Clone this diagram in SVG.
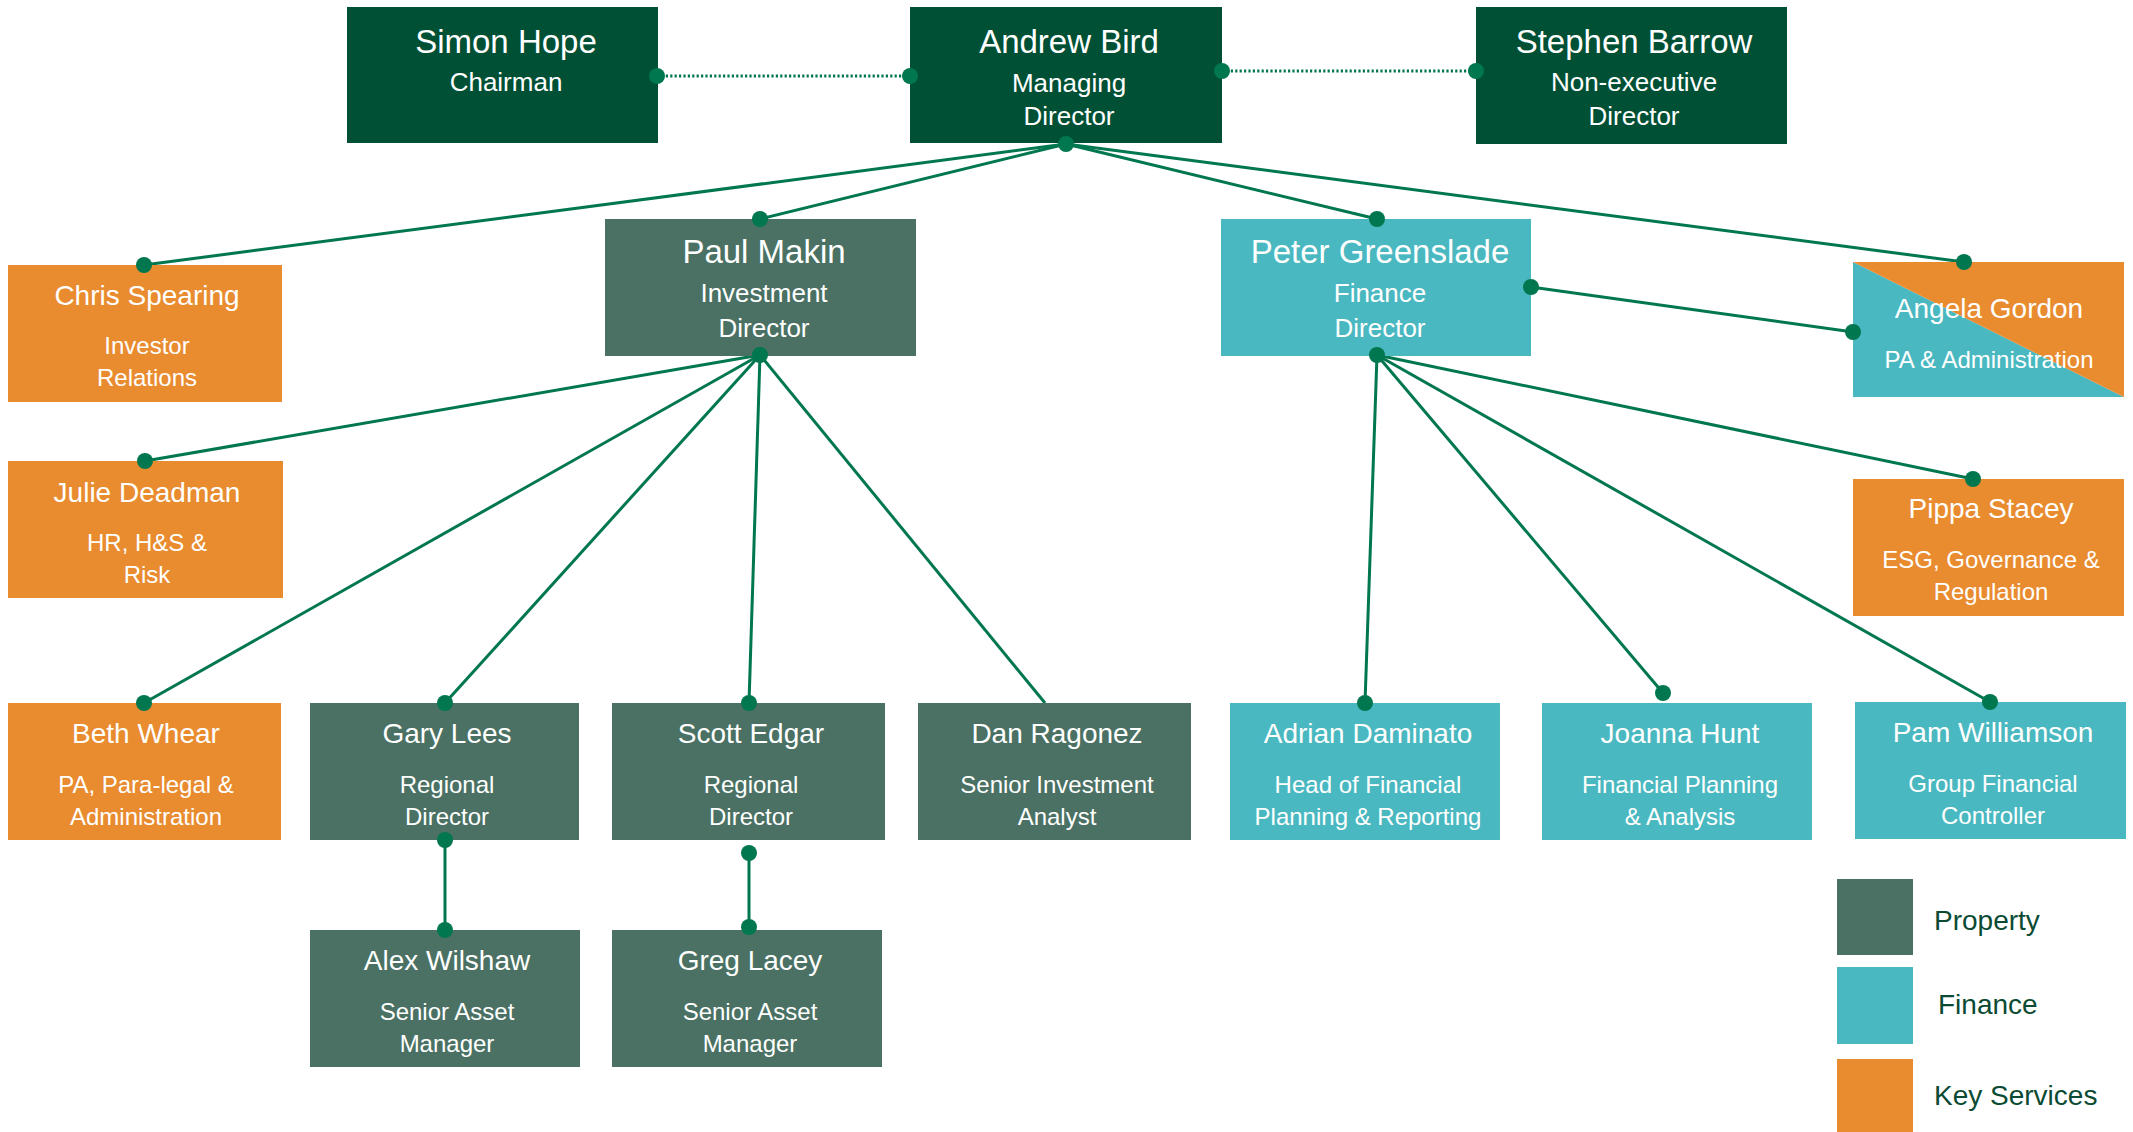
<svg xmlns="http://www.w3.org/2000/svg" width="2133" height="1132" viewBox="0 0 2133 1132">
<style>
.dark{fill:#005035}
.prop{fill:#4a7163}
.fin{fill:#4ab8c0}
.ks{fill:#e98b2f}
text{font-family:"Liberation Sans",Arial,sans-serif;fill:#ffffff;text-anchor:middle}
.n1{font-size:33px}
.s1{font-size:26px}
.n2{font-size:28px}
.s2{font-size:24px}
.leg{font-size:28px;fill:#0b4a33;text-anchor:start}
.ln{stroke:#00774e;stroke-width:3;fill:none}
.dot{stroke:#00774e;stroke-width:3;fill:none;stroke-dasharray:2.2 2.2}
.pt{fill:#00774e}
</style>
<rect width="2133" height="1132" fill="#ffffff"/>
<g id="connectors">
<line class="dot" x1="657" y1="76" x2="910" y2="76"/>
<line class="dot" x1="1222" y1="71" x2="1476" y2="71"/>
<line class="ln" x1="1066" y1="144" x2="144" y2="265"/>
<line class="ln" x1="1066" y1="144" x2="760" y2="219"/>
<line class="ln" x1="1066" y1="144" x2="1377" y2="219"/>
<line class="ln" x1="1066" y1="144" x2="1964" y2="262"/>
<line class="ln" x1="760" y1="355" x2="145" y2="461"/>
<line class="ln" x1="760" y1="355" x2="144" y2="703"/>
<line class="ln" x1="760" y1="355" x2="445" y2="703"/>
<line class="ln" x1="760" y1="355" x2="749" y2="703"/>
<line class="ln" x1="760" y1="355" x2="1045" y2="703"/>
<line class="ln" x1="1531" y1="287" x2="1853" y2="332"/>
<line class="ln" x1="1377" y1="355" x2="1973" y2="479"/>
<line class="ln" x1="1377" y1="355" x2="1365" y2="703"/>
<line class="ln" x1="1377" y1="355" x2="1663" y2="693"/>
<line class="ln" x1="1377" y1="355" x2="1990" y2="702"/>
<line class="ln" x1="445" y1="840" x2="445" y2="930"/>
<line class="ln" x1="749" y1="853" x2="749" y2="927"/>
</g>
<g id="simon-hope"><rect class="dark" x="347" y="7" width="311" height="136"/><text class="n1" x="506" y="53">Simon Hope</text><text class="s1" x="506" y="91">Chairman</text></g>
<g id="andrew-bird"><rect class="dark" x="910" y="7" width="312" height="136"/><text class="n1" x="1069" y="53">Andrew Bird</text><text class="s1" x="1069" y="92">Managing</text><text class="s1" x="1069" y="125">Director</text></g>
<g id="stephen-barrow"><rect class="dark" x="1476" y="7" width="311" height="137"/><text class="n1" x="1634" y="53">Stephen Barrow</text><text class="s1" x="1634" y="91">Non-executive</text><text class="s1" x="1634" y="125">Director</text></g>
<g id="chris-spearing"><rect class="ks" x="8" y="265" width="274" height="137"/><text class="n2" x="147" y="305">Chris Spearing</text><text class="s2" x="147" y="354">Investor</text><text class="s2" x="147" y="386">Relations</text></g>
<g id="paul-makin"><rect class="prop" x="605" y="219" width="311" height="137"/><text class="n1" x="764" y="263">Paul Makin</text><text class="s1" x="764" y="302">Investment</text><text class="s1" x="764" y="337">Director</text></g>
<g id="peter-greenslade"><rect class="fin" x="1221" y="219" width="310" height="137"/><text class="n1" x="1380" y="263">Peter Greenslade</text><text class="s1" x="1380" y="302">Finance</text><text class="s1" x="1380" y="337">Director</text></g>
<g id="angela-gordon"><polygon class="fin" points="1853,262 2124,397 1853,397"/><polygon class="ks" points="1853,262 2124,262 2124,397"/><text class="n2" x="1989" y="318">Angela Gordon</text><text class="s2" x="1989" y="368">PA &amp; Administration</text></g>
<g id="julie-deadman"><rect class="ks" x="8" y="461" width="275" height="137"/><text class="n2" x="147" y="502">Julie Deadman</text><text class="s2" x="147" y="551">HR, H&amp;S &amp;</text><text class="s2" x="147" y="583">Risk</text></g>
<g id="pippa-stacey"><rect class="ks" x="1853" y="479" width="271" height="137"/><text class="n2" x="1991" y="518">Pippa Stacey</text><text class="s2" x="1991" y="568">ESG, Governance &amp;</text><text class="s2" x="1991" y="600">Regulation</text></g>
<g id="beth-whear"><rect class="ks" x="8" y="703" width="273" height="137"/><text class="n2" x="146" y="743">Beth Whear</text><text class="s2" x="146" y="793">PA, Para-legal &amp;</text><text class="s2" x="146" y="825">Administration</text></g>
<g id="gary-lees"><rect class="prop" x="310" y="703" width="269" height="137"/><text class="n2" x="447" y="743">Gary Lees</text><text class="s2" x="447" y="793">Regional</text><text class="s2" x="447" y="825">Director</text></g>
<g id="scott-edgar"><rect class="prop" x="612" y="703" width="273" height="137"/><text class="n2" x="751" y="743">Scott Edgar</text><text class="s2" x="751" y="793">Regional</text><text class="s2" x="751" y="825">Director</text></g>
<g id="dan-ragonez"><rect class="prop" x="918" y="703" width="273" height="137"/><text class="n2" x="1057" y="743">Dan Ragonez</text><text class="s2" x="1057" y="793">Senior Investment</text><text class="s2" x="1057" y="825">Analyst</text></g>
<g id="adrian-daminato"><rect class="fin" x="1230" y="703" width="270" height="137"/><text class="n2" x="1368" y="743">Adrian Daminato</text><text class="s2" x="1368" y="793">Head of Financial</text><text class="s2" x="1368" y="825">Planning &amp; Reporting</text></g>
<g id="joanna-hunt"><rect class="fin" x="1542" y="703" width="270" height="137"/><text class="n2" x="1680" y="743">Joanna Hunt</text><text class="s2" x="1680" y="793">Financial Planning</text><text class="s2" x="1680" y="825">&amp; Analysis</text></g>
<g id="pam-williamson"><rect class="fin" x="1855" y="702" width="271" height="137"/><text class="n2" x="1993" y="742">Pam Williamson</text><text class="s2" x="1993" y="792">Group Financial</text><text class="s2" x="1993" y="824">Controller</text></g>
<g id="alex-wilshaw"><rect class="prop" x="310" y="930" width="270" height="137"/><text class="n2" x="447" y="970">Alex Wilshaw</text><text class="s2" x="447" y="1020">Senior Asset</text><text class="s2" x="447" y="1052">Manager</text></g>
<g id="greg-lacey"><rect class="prop" x="612" y="930" width="270" height="137"/><text class="n2" x="750" y="970">Greg Lacey</text><text class="s2" x="750" y="1020">Senior Asset</text><text class="s2" x="750" y="1052">Manager</text></g>
<g id="connector-dots">
<circle class="pt" cx="657" cy="76" r="8"/><circle class="pt" cx="910" cy="76" r="8"/>
<circle class="pt" cx="1222" cy="71" r="8"/><circle class="pt" cx="1476" cy="71" r="8"/>
<circle class="pt" cx="1066" cy="144" r="8"/>
<circle class="pt" cx="144" cy="265" r="8"/><circle class="pt" cx="760" cy="219" r="8"/>
<circle class="pt" cx="1377" cy="219" r="8"/><circle class="pt" cx="1964" cy="262" r="8"/>
<circle class="pt" cx="760" cy="355" r="8"/><circle class="pt" cx="145" cy="461" r="8"/>
<circle class="pt" cx="144" cy="703" r="8"/><circle class="pt" cx="445" cy="703" r="8"/>
<circle class="pt" cx="749" cy="703" r="8"/>
<circle class="pt" cx="1531" cy="287" r="8"/><circle class="pt" cx="1853" cy="332" r="8"/>
<circle class="pt" cx="1377" cy="355" r="8"/><circle class="pt" cx="1973" cy="479" r="8"/>
<circle class="pt" cx="1365" cy="703" r="8"/><circle class="pt" cx="1663" cy="693" r="8"/>
<circle class="pt" cx="1990" cy="702" r="8"/>
<circle class="pt" cx="445" cy="840" r="8"/><circle class="pt" cx="445" cy="930" r="8"/>
<circle class="pt" cx="749" cy="853" r="8"/><circle class="pt" cx="749" cy="927" r="8"/>
</g>
<g id="legend">
<rect class="prop" x="1837" y="879" width="76" height="76"/><text class="leg" x="1934" y="930">Property</text>
<rect class="fin" x="1837" y="967" width="76" height="77"/><text class="leg" x="1938" y="1014">Finance</text>
<rect class="ks" x="1837" y="1059" width="76" height="73"/><text class="leg" x="1934" y="1105">Key Services</text>
</g>
</svg>
